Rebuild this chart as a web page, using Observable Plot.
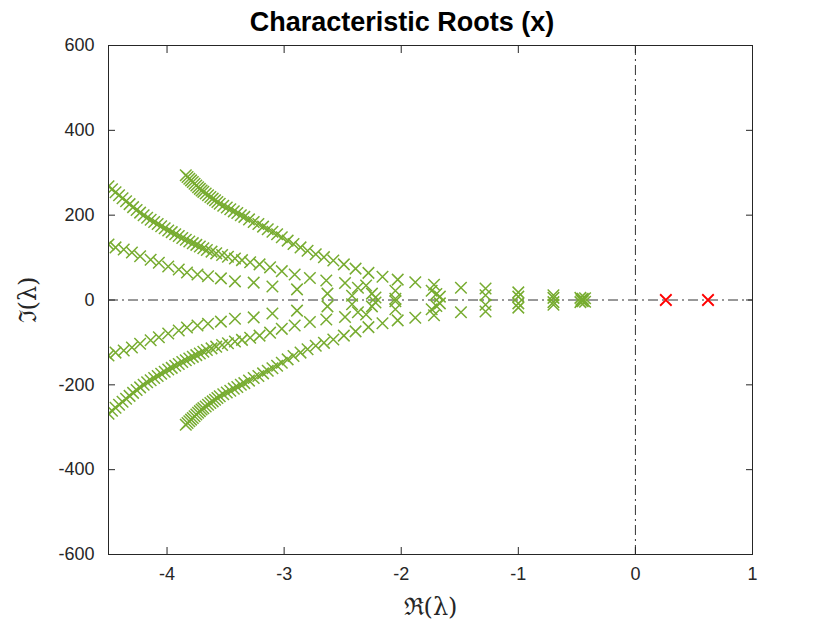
<!DOCTYPE html>
<html>
<head>
<meta charset="utf-8">
<script src="https://cdn.jsdelivr.net/npm/d3@7"></script>
<script src="https://cdn.jsdelivr.net/npm/@observablehq/plot@0.6"></script>
<style>
  body { margin: 0; background: #fff; font-family: "Liberation Sans", Arial, sans-serif; }
  #title { width: 830px; height: 36px; box-sizing: border-box; padding: 9px 26px 0 0; text-align: center;
           font-weight: bold; font-size: 27px; line-height: 27px; color: #000; }
  #chart svg g[aria-label="x-axis label"] text,
  #chart svg g[aria-label="y-axis label"] text { font-family: "DejaVu Serif", "Liberation Serif", serif; font-size: 24px; fill: #262626; }
  #chart svg g[aria-label="x-axis tick label"] text,
  #chart svg g[aria-label="y-axis tick label"] text { font-size: 18px; fill: #262626; }
</style>
</head>
<body>
<div id="title">Characteristic Roots (x)</div>
<div id="chart"></div>
<script>
const xTicks = [-4, -3, -2, -1, 0, 1];
const yTicks = [-600, -400, -200, 0, 200, 400, 600];

// inner, dense branch
const branchBRe = [-3.84,-3.825,-3.81,-3.795,-3.78,-3.765,-3.75,-3.735,-3.72,-3.705,-3.69,-3.67,-3.65,-3.63,-3.61,-3.59,-3.57,-3.55,-3.52,-3.49,-3.46,-3.43,-3.40,-3.37,-3.34,-3.30,-3.26,-3.22,-3.18,-3.14,-3.10,-3.06,-3.02,-2.97,-2.92,-2.86,-2.80,-2.73,-2.66,-2.58,-2.49,-2.39,-2.28,-2.16,-2.03,-1.88,-1.72];
const branchBImUp = [294,290,286,282,278,274,270,266,262,258,255,251,247,243,239,235,231,227,222,218,214,209,205,200,196,190,184,179,173,167,161,155,148,140,132,124,116,108,101,93,84,74,64,55,48,42,36];
const branchBImDown = [-294,-290,-286,-282,-278,-274,-270,-266,-262,-258,-255,-251,-247,-243,-239,-235,-231,-227,-222,-218,-214,-209,-205,-200,-196,-190,-184,-179,-173,-167,-161,-155,-148,-140,-132,-124,-116,-108,-101,-93,-84,-74,-64,-55,-48,-42,-36];

// outer branch
const branchARe = [-4.50,-4.47,-4.44,-4.41,-4.38,-4.35,-4.32,-4.29,-4.26,-4.23,-4.20,-4.17,-4.14,-4.11,-4.08,-4.05,-4.02,-3.99,-3.96,-3.93,-3.90,-3.87,-3.84,-3.81,-3.78,-3.75,-3.72,-3.69,-3.66,-3.62,-3.58,-3.53,-3.48,-3.42,-3.36,-3.29,-3.21,-3.12,-3.02,-2.91,-2.78,-2.64,-2.48,-2.30];
const branchAImUp = [268,261,254,247,240,233,226,219,212,206,200,194,189,184,179,174,169,164,160,155,151,146,142,138,134,130,126,122,118,114,110,106,102,98,94,89,84,77,68,60,52,46,40,34];
const branchAImDown = [-268,-261,-254,-247,-240,-233,-226,-219,-212,-206,-200,-194,-189,-184,-179,-174,-169,-164,-160,-155,-151,-146,-142,-138,-134,-130,-126,-122,-118,-114,-110,-106,-102,-98,-94,-89,-84,-77,-68,-60,-52,-46,-40,-34];

// middle, sparse branch
const branchCRe = [-4.50,-4.44,-4.37,-4.30,-4.23,-4.14,-4.07,-3.99,-3.90,-3.83,-3.74,-3.65,-3.54,-3.42,-3.26,-3.10,-2.89,-2.63,-2.42,-2.22,-2.05];
const branchCImUp = [131,124,119,112,103,95,88,79,72,65,60,56,51,44,41,32,25,15,10,6,3];
const branchCImDown = [-131,-124,-119,-112,-103,-95,-88,-79,-72,-65,-60,-56,-51,-44,-41,-32,-25,-15,-10,-6,-3];

// roots near the real axis
const nearRe = [-2.37,-2.25,-2.05,-1.74,-1.70,-1.67,-1.49,-1.28,-1.28,-1.00,-1.00,-0.70,-0.70,-0.47,-0.45,-0.43,-0.46];
const nearImUp = [29,15,22,22,14,8,29,27,11,18,8,11,5,5,3,4,1];
const nearImDown = [-29,-15,-22,-22,-14,-8,-29,-27,-11,-18,-8,-11,-5,-5,-3,-4,-1];

// unstable roots (red)
const unstableRe = [0.26, 0.62];
const unstableIm = [0, 0];

// ---- build tables ----
const pairs = (re, im) => re.map((r, i) => ({re: r, im: im[i]}));
const stable = [].concat(
  pairs(branchARe, branchAImUp), pairs(branchARe, branchAImDown),
  pairs(branchCRe, branchCImUp), pairs(branchCRe, branchCImDown),
  pairs(branchBRe, branchBImUp), pairs(branchBRe, branchBImDown),
  pairs(nearRe, nearImUp), pairs(nearRe, nearImDown)
);
const unstable = pairs(unstableRe, unstableIm);

const ink = "#262626";
const chart = Plot.plot({
  width: 830,
  height: 587,
  marginTop: 9,
  marginBottom: 69,
  marginLeft: 108,
  marginRight: 78,
  style: {fontFamily: "'Liberation Sans', Arial, sans-serif", fontSize: "18px", color: ink, background: "#fff", overflow: "visible"},
  x: {domain: [-4.5, 1]},
  y: {domain: [-600, 600]},
  marks: [
    Plot.ruleY([0], {stroke: "#333", strokeWidth: 1, strokeDasharray: "10,4,2,4"}),
    Plot.ruleX([0], {stroke: "#333", strokeWidth: 1, strokeDasharray: "10,4,2,4"}),
    Plot.dot(stable, {x: "re", y: "im", symbol: "times", r: 5.3, stroke: "#77AC30", strokeWidth: 1.5, clip: true}),
    Plot.dot(unstable, {x: "re", y: "im", symbol: "times", r: 5.3, stroke: "#FF0000", strokeWidth: 1.8}),
    Plot.frame({stroke: ink, strokeWidth: 1}),
    Plot.axisX(xTicks, {anchor: "bottom", tickSize: -7, tickPadding: 20, fontSize: 18, tickFormat: d => String(d),
      label: "ℜ(λ)", labelAnchor: "center", labelArrow: "none", labelOffset: 60, stroke: ink}),
    Plot.axisX(xTicks, {anchor: "top", tickSize: -7, tickFormat: () => "", label: null, stroke: ink}),
    Plot.axisY(yTicks, {anchor: "left", tickSize: -7, tickPadding: 21, fontSize: 18, tickFormat: d => String(d),
      label: "ℑ(λ)", labelAnchor: "center", labelArrow: "none", labelOffset: 90, stroke: ink}),
    Plot.axisY(yTicks, {anchor: "right", tickSize: -7, tickFormat: () => "", label: null, stroke: ink})
  ]
});
document.getElementById("chart").appendChild(chart);
</script>
</body>
</html>
